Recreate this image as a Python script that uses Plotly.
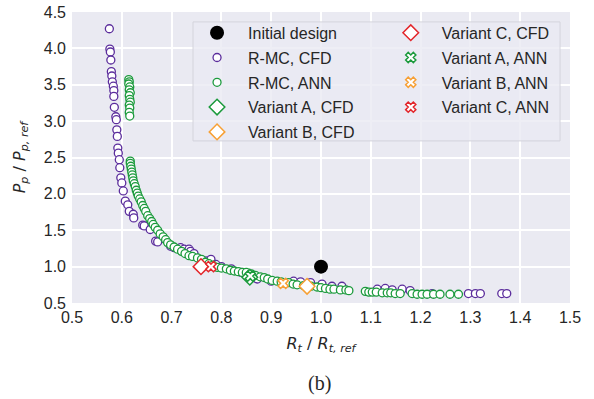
import plotly.graph_objects as go

# R-MC, CFD (purple)
rmc_cfd_x = [0.575, 0.576, 0.577, 0.578, 0.579, 0.580, 0.581, 0.583, 0.584, 0.584, 0.585, 0.588,
             0.589, 0.590, 0.591, 0.592, 0.593, 0.595, 0.596, 0.598, 0.600, 0.603, 0.607, 0.612,
             0.615, 0.623, 0.624, 0.642, 0.645, 0.657, 0.668, 0.672, 0.698, 0.705, 0.718, 0.725,
             0.735, 0.738, 0.745, 0.769, 0.779, 0.789, 0.800, 0.820, 0.840, 0.865, 0.872, 0.900,
             0.945, 0.959, 0.979, 1.002, 1.022, 1.042, 1.113, 1.129, 1.143, 1.163, 1.179, 1.223,
             1.296, 1.310, 1.320, 1.363, 1.373]
rmc_cfd_y = [4.27, 3.99, 3.95, 3.84, 3.68, 3.62, 3.54, 3.48, 3.42, 3.34, 3.19, 3.06,
             3.02, 2.88, 2.79, 2.63, 2.56, 2.47, 2.36, 2.22, 2.15, 2.04, 1.90, 1.85,
             1.76, 1.72, 1.67, 1.57, 1.56, 1.51, 1.35, 1.34, 1.28, 1.26, 1.26, 1.24,
             1.24, 1.21, 1.18, 1.08, 1.10, 1.03, 1.00, 0.97, 0.92, 0.85, 0.83, 0.80,
             0.80, 0.79, 0.78, 0.76, 0.73, 0.73, 0.69, 0.70, 0.68, 0.69, 0.67, 0.63,
             0.63, 0.63, 0.63, 0.63, 0.63]

# R-MC, ANN (green)
rmc_ann_x = [0.614, 0.615, 0.614, 0.616, 0.615, 0.617, 0.615, 0.616, 0.617, 0.615, 0.616, 0.615,
             0.616, 0.617, 0.617, 0.618, 0.619, 0.620, 0.621, 0.622, 0.623, 0.625, 0.627, 0.629,
             0.631, 0.633, 0.636, 0.639, 0.642, 0.645, 0.648, 0.652, 0.656, 0.660, 0.663, 0.667,
             0.672, 0.677, 0.683, 0.688, 0.692, 0.698, 0.705, 0.712, 0.720, 0.727, 0.735, 0.742,
             0.752, 0.760, 0.768, 0.775, 0.783, 0.792, 0.800, 0.810, 0.818, 0.826, 0.834, 0.842,
             0.850, 0.860, 0.868, 0.878, 0.886, 0.893, 0.902, 0.912, 0.920, 0.935, 0.944, 0.952,
             0.965, 0.980, 0.992, 1.000, 1.009, 1.018, 1.026, 1.039, 1.050, 1.056, 1.089, 1.096,
             1.103, 1.111, 1.123, 1.133, 1.140, 1.149, 1.159, 1.183, 1.193, 1.203, 1.213, 1.226,
             1.239, 1.259, 1.276]
rmc_ann_y = [3.57, 3.54, 3.51, 3.47, 3.43, 3.39, 3.35, 3.30, 3.26, 3.22, 3.18, 3.12,
             3.07, 2.45, 2.42, 2.38, 2.34, 2.30, 2.26, 2.22, 2.18, 2.14, 2.10, 2.05,
             2.01, 1.97, 1.93, 1.89, 1.84, 1.80, 1.76, 1.70, 1.66, 1.62, 1.58, 1.54,
             1.50, 1.45, 1.41, 1.37, 1.33, 1.30, 1.27, 1.24, 1.21, 1.18, 1.15, 1.14,
             1.12, 1.10, 1.06, 1.04, 1.02, 0.99, 0.98, 0.97, 0.95, 0.94, 0.93, 0.92,
             0.92, 0.90, 0.88, 0.86, 0.85, 0.83, 0.81, 0.80, 0.79, 0.78, 0.76, 0.75,
             0.74, 0.73, 0.72, 0.71, 0.70, 0.69, 0.69, 0.68, 0.68, 0.67, 0.66, 0.65,
             0.65, 0.65, 0.64, 0.64, 0.64, 0.63, 0.63, 0.63, 0.62, 0.62, 0.62, 0.62,
             0.62, 0.62, 0.62]

initial_x, initial_y = [1.0], [1.0]
var_a_cfd_x, var_a_cfd_y = [0.857], [0.855]
var_b_cfd_x, var_b_cfd_y = [0.972], [0.73]
var_c_cfd_x, var_c_cfd_y = [0.759], [1.0]
var_a_ann_x, var_a_ann_y = [0.858], [0.87]
var_b_ann_x, var_b_ann_y = [0.924], [0.77]
var_c_ann_x, var_c_ann_y = [0.779], [1.0]

x_ticks = [0.5, 0.6, 0.7, 0.8, 0.9, 1.0, 1.1, 1.2, 1.3, 1.4, 1.5]
y_ticks = [0.5, 1.0, 1.5, 2.0, 2.5, 3.0, 3.5, 4.0, 4.5]

PURPLE = "#5b2d9c"
GREEN = "#1b9a3c"
ORANGE = "#f7a035"
RED = "#e3262b"

fig = go.Figure()

def add(x, y, name, symbol, size, fill, edge, lw, legend, rank):
    fig.add_trace(go.Scatter(
        x=x, y=y, mode="markers", name=name, legend=legend, legendrank=rank,
        legendgroup=name,
        marker=dict(symbol=symbol, size=size, color=fill,
                    line=dict(color=edge, width=lw))))

add(rmc_cfd_x, rmc_cfd_y, "R-MC, CFD", "circle", 8, "white", PURPLE, 1.3, "legend", 2)
add(rmc_ann_x, rmc_ann_y, "R-MC, ANN", "circle", 8, "white", GREEN, 1.3, "legend", 3)
add(var_a_cfd_x, var_a_cfd_y, "Variant A, CFD", "diamond", 12, "white", GREEN, 1.5, "legend", 4)
add(var_b_cfd_x, var_b_cfd_y, "Variant B, CFD", "diamond", 12, "white", ORANGE, 1.5, "legend", 5)
add(var_c_cfd_x, var_c_cfd_y, "Variant C, CFD", "diamond", 12, "white", RED, 1.5, "legend2", 1)
add(var_a_ann_x, var_a_ann_y, "Variant A, ANN", "x", 9, "white", GREEN, 1.5, "legend2", 2)
add(var_b_ann_x, var_b_ann_y, "Variant B, ANN", "x", 9, "white", ORANGE, 1.5, "legend2", 3)
add(var_c_ann_x, var_c_ann_y, "Variant C, ANN", "x", 9, "white", RED, 1.5, "legend2", 4)
add(initial_x, initial_y, "Initial design", "circle", 14, "black", "black", 0, "legend", 1)

axis_common = dict(
    showline=False, zeroline=False, showgrid=True, gridcolor="white", gridwidth=1.5,
    ticks="", automargin=False,
    tickfont=dict(family="Liberation Sans", size=16, color="#262626"),
)

fig.update_xaxes(range=[0.5, 1.5], tickvals=x_ticks, tickformat=".1f", ticklabelstandoff=3,
                 title=dict(text="<i>R</i><sub><i>t</i></sub> / <i>R</i><sub><i>t, ref</i></sub>",
                            font=dict(family="DejaVu Sans", size=16, color="#262626"), standoff=12),
                 **axis_common)
fig.update_yaxes(range=[0.5, 4.5], tickvals=y_ticks, tickformat=".1f", ticklabelstandoff=5,
                 title=dict(text="<i>P</i><sub><i>p</i></sub> / <i>P</i><sub><i>p, ref</i></sub>",
                            font=dict(family="DejaVu Sans", size=16, color="#262626"), standoff=14),
                 **axis_common)

fig.add_annotation(text="(b)", xref="paper", yref="paper", x=0.497, y=-0.278,
                   xanchor="center", yanchor="middle", showarrow=False,
                   font=dict(family="Liberation Serif", size=20, color="#262626"))

# legend frame
fig.add_shape(type="rect", xref="paper", yref="paper", x0=0.243, x1=0.98, y0=0.557, y1=0.966,
              fillcolor="rgba(234,234,242,0.8)", line=dict(color="#d4d4dc", width=1), layer="above")

leg_common = dict(bgcolor="rgba(0,0,0,0)", borderwidth=0, itemwidth=52,
                  font=dict(family="Liberation Sans", size=16, color="#262626"),
                  traceorder="grouped", tracegroupgap=1, itemsizing="trace",
                  yanchor="top", xanchor="left", orientation="v")

fig.update_layout(
    width=594, height=399,
    margin=dict(l=72, r=24, t=12, b=96),
    paper_bgcolor="white", plot_bgcolor="#eaeaf2",
    showlegend=True,
    legend=dict(x=0.229, y=0.987, **leg_common),
    legend2=dict(x=0.618, y=0.987, **leg_common),
)

fig.write_html("out.html", config={"displayModeBar": False},
               post_script="document.body.style.margin='0';")
